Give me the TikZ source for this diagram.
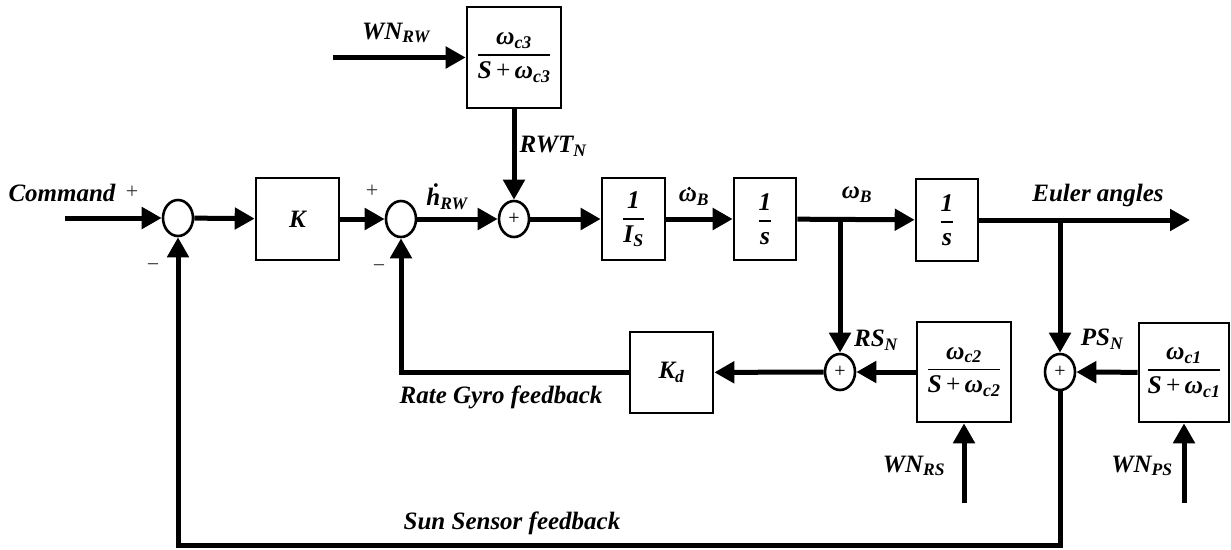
\documentclass[tikz,border=0pt]{standalone}
\usepackage{amsmath}
\usepackage{fontspec}
\setmainfont{Liberation Serif}
\usetikzlibrary{arrows.meta,shapes.geometric,calc}
\newcommand{\sbs}[1]{\textsubscript{#1}}
\newcommand{\pls}{{\upshape\mdseries\,+\,}}
\newcommand{\lpf}[2]{{\fontsize{25.5}{30}\selectfont$\genfrac{}{}{1.5pt}{0}{\mbox{#1}}{\mbox{#2}}$}}
\begin{document}
\begin{tikzpicture}[x=1pt,y=-1pt,
  every node/.style={font=\fontsize{25}{28}\selectfont\bfseries\itshape},
  blk/.style={draw, line width=2.6pt, inner sep=0pt, rectangle},
  sumj/.style={draw, ellipse, line width=2.6pt, minimum width=30pt, minimum height=36pt, inner sep=0pt, font=\fontsize{20}{22}\selectfont\upshape\mdseries},
  sig/.style={line width=5pt, -{Triangle[length=20pt,width=21pt]}},
  lbl/.style={inner sep=0pt},
  sgn/.style={inner sep=0pt, font=\fontsize{22}{24}\selectfont\upshape\mdseries, text=black!80}
]
\useasboundingbox (0,0) rectangle (1231,549);

% top row nodes
\node[sumj] (s1) at (178,218) {};
\node[blk, minimum width=83pt, minimum height=82pt] (K) at (297.5,219) {K};
\node[sumj] (s2) at (401,219) {};
\node[sumj] (s3) at (514,219) {+};
\node[blk, minimum width=94pt, minimum height=101pt] (f3) at (514,57.5) {\lpf{ω\sbs{c3}}{S\pls ω\sbs{c3}}};
\node[blk, minimum width=63pt, minimum height=82pt] (Is) at (633.5,219) {\lpf{1}{I\sbs{S}}};
\node[blk, minimum width=62pt, minimum height=82pt] (i1) at (765,219) {\lpf{1}{s}};
\node[blk, minimum width=62pt, minimum height=82pt] (i2) at (947,220) {\lpf{1}{s}};

% bottom row nodes
\node[blk, minimum width=83pt, minimum height=81pt] (Kd) at (671.5,372.5) {K\sbs{d}};
\node[sumj] (rs) at (840,372) {+};
\node[blk, minimum width=94pt, minimum height=100pt] (f2) at (964,372) {\lpf{ω\sbs{c2}}{S\pls ω\sbs{c2}}};
\node[sumj] (ps) at (1060,372) {+};
\node[blk, minimum width=90pt, minimum height=99pt] (f1) at (1184,372.5) {\lpf{ω\sbs{c1}}{S\pls ω\sbs{c1}}};

% free ends
\coordinate (cmd) at (65,218);
\coordinate (wrw) at (333,57.5);
\coordinate (b1) at (840,219.5);
\coordinate (b2) at (1060,220);
\coordinate (out) at (1190,220);
\coordinate (wrs) at (964,503);
\coordinate (wps) at (1184,503);
\coordinate (bot) at (600,545);

% forward path
\draw[sig] (cmd) -- (s1);
\draw[sig] (s1) -- (K);
\draw[sig] (K) -- (s2);
\draw[sig] (s2) -- (s3);
\draw[sig] (s3) -- (Is);
\draw[sig] (Is) -- (i1);
\draw[sig] (i1) -- (i2);
\draw[sig] (i2.east) -- (out);
\draw[sig] (wrw) -- (f3);
\draw[sig] (f3) -- (s3);

% feedback
\draw[sig] (b1) -- (rs);
\draw[sig] (b2) -- (ps);
\draw[sig] (f2) -- (rs);
\draw[sig] (f1) -- (ps);
\draw[sig] (rs) -- (Kd);
\draw[sig] (Kd.west) -| (s2.south);
\draw[sig] (ps.south) |- (bot) -| (s1.south);
\draw[sig] (wrs) -- (f2);
\draw[sig] (wps) -- (f1);

% labels
\node[lbl] (tcmd) at (62,193) {Command};
\node[sgn] (p1) at (132,192) {+};
\node[sgn] (m1) at (153,268) {−};
\node[sgn] (p2) at (372,191) {+};
\node[sgn] (m2) at (379,269) {−};
\node[lbl] (twrw) at (396,33) {WN\sbs{RW}};
\node[lbl] (trwt) at (553,146) {RWT\sbs{N}};
\node[lbl] (thrw) at (447,197) {\.{h}\sbs{RW}};
\node[lbl] (twbd) at (694,198) {ω\sbs{B}};
\fill ($(twbd.north west)+(10.5,-1.5)$) circle (1.9pt);
\node[lbl] (twb) at (857,195) {ω\sbs{B}};
\node[lbl] (teul) at (1098,195) {Euler angles};
\node[lbl] (trsn) at (876,340) {RS\sbs{N}};
\node[lbl] (tpsn) at (1102,339) {PS\sbs{N}};
\node[lbl] (twrs) at (914,466) {WN\sbs{RS}};
\node[lbl] (twps) at (1142,466) {WN\sbs{PS}};
\node[lbl] (trg) at (501,397) {Rate Gyro feedback};
\node[lbl] (tss) at (512,523) {Sun Sensor feedback};
\end{tikzpicture}
\end{document}
